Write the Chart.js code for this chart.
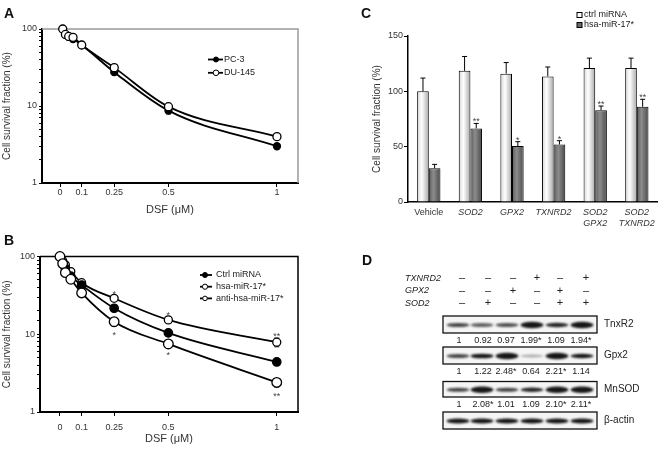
<!DOCTYPE html>
<html>
<head>
<meta charset="utf-8">
<script src="https://cdn.jsdelivr.net/npm/chart.js@4.4.1/dist/chart.umd.min.js"></script>
<style>
body { margin: 0; background: #fff; width: 660px; height: 449px; position: relative; overflow: hidden; font-family: "Liberation Sans", Arial, sans-serif; }
canvas { position: absolute; }
.tag { position: absolute; font: bold 14px "Liberation Sans", Arial, sans-serif; color: #111; }
</style>
</head>
<body>
<canvas id="chartA" width="330" height="220" style="left:0;top:0"></canvas>
<canvas id="chartB" width="330" height="227" style="left:0;top:222px"></canvas>
<canvas id="chartC" width="330" height="232" style="left:330px;top:0"></canvas>
<canvas id="blotD" width="330" height="229" style="left:330px;top:220px"></canvas>
<div class="tag" style="left:4px;top:5px">A</div>
<div class="tag" style="left:4px;top:232px">B</div>
<div class="tag" style="left:361px;top:5px">C</div>
<div class="tag" style="left:362px;top:252px">D</div>
<script>
//// data

// panel A
let doseA = [0.0125, 0.025, 0.04, 0.06, 0.1, 0.25, 0.5, 1];
let pc3 = [100, 84, 79, 74, 62, 27.5, 8.7, 3.0];
let pc3Err = [0, 0, 0, 0, 0, 1.5, 0.8, 0.2];
let du145 = [100, 85, 80, 78, 62, 31.5, 9.8, 4.0];
let du145Err = [0, 0, 0, 0, 0, 1.5, 1.0, 0.3];

// panel B
let doseB = [0, 0.0125, 0.025, 0.05, 0.1, 0.25, 0.5, 1];
let ctrlMiRNA = [100, 84, 70, 56, 43, 21.6, 10.4, 4.4];
let ctrlMiRNAErr = [0, 0, 0, 0, 0, 2, 1, 0.3];
let hsaMiR = [100, 81, 62, 51, 34, 14.5, 7.5, 2.4];
let hsaMiRErr = [0, 0, 0, 0, 0, 1.8, 0.5, 0.3];
let hsaMiRStars = ['', '', '', '', '', '*', '*', '**'];
let antiMiR = [100, 88, 78, 64, 46, 29, 15.3, 7.9];
let antiMiRErr = [0, 0, 0, 0, 0, 2, 1.5, 1.0];
let antiMiRStars = ['', '', '', '', '', '*', '*', '**'];

let doseTicks = [0, 0.1, 0.25, 0.5, 1];
let logTicks = [1, 10, 100];

// panel C
let groupsC = ['Vehicle', 'SOD2', 'GPX2', 'TXNRD2', ['SOD2', 'GPX2'], ['SOD2', 'TXNRD2']];
let ctrlC = [100, 118.5, 116, 113.5, 121, 121];
let ctrlCErr = [12, 13, 10, 8.5, 9, 9];
let hsaC = [30.5, 66.5, 50.5, 52, 83, 86];
let hsaCErr = [3.5, 4.5, 4, 3.4, 3.7, 6.8];
let hsaCStars = ['', '**', '*', '*', '**', '**'];

// panel D
let rowTXNRD2 = ['-', '-', '-', '+', '-', '+'];
let rowGPX2 = ['-', '-', '+', '-', '+', '-'];
let rowSOD2 = ['-', '+', '-', '-', '+', '+'];
let quantTrxR2 = ['1', '0.92', '0.97', '1.99*', '1.09', '1.94*'];
let quantGpx2 = ['1', '1.22', '2.48*', '0.64', '2.21*', '1.14'];
let quantMnSOD = ['1', '2.08*', '1.01', '1.09', '2.10*', '2.11*'];
let actinLevel = [1.3, 1.3, 1.3, 1.3, 1.3, 1.35];

//// shared look

const FONT = '"Liberation Sans", Arial, sans-serif';
Chart.defaults.font.family = FONT;
Chart.defaults.color = '#333';
Chart.defaults.animation = false;

/// top and right edge of the plot box
const framePlugin = {
    id: 'frame',
    beforeDatasetsDraw(chart, args, o) {
        if (!o.color) return;
        let a = chart.chartArea, c = chart.ctx;
        c.save();
        c.strokeStyle = o.color;
        c.lineWidth = o.width;
        c.beginPath();
        c.moveTo(a.left, a.top);
        c.lineTo(a.right, a.top);
        c.lineTo(a.right, a.bottom);
        c.stroke();
        c.restore();
    }
};

/// whiskers and significance stars, read from dataset.errors / dataset.stars
const errorPlugin = {
    id: 'errors',
    beforeDatasetsDraw(chart, args, o) {
        let c = chart.ctx;
        c.save();
        chart.data.datasets.forEach(function(ds, di) {
            if (!ds.errors) return;
            let meta = chart.getDatasetMeta(di);
            let ys = chart.scales[meta.yAxisID];
            meta.data.forEach(function(el, i) {
                let e = ds.errors[i];
                if (!e) return;
                let v = typeof ds.data[i] === 'object' ? ds.data[i].y : ds.data[i];
                let top = ys.getPixelForValue(v + e);
                let bot = o.upOnly ? el.y : ys.getPixelForValue(v - e);
                c.strokeStyle = '#000';
                c.lineWidth = 1;
                c.beginPath();
                c.moveTo(el.x, top); c.lineTo(el.x, bot);
                c.moveTo(el.x - o.cap, top); c.lineTo(el.x + o.cap, top);
                if (!o.upOnly) { c.moveTo(el.x - o.cap, bot); c.lineTo(el.x + o.cap, bot); }
                c.stroke();
            });
        });
        c.restore();
    },
    afterDatasetsDraw(chart, args, o) {
        let c = chart.ctx;
        c.save();
        c.font = '9px ' + FONT;
        c.fillStyle = '#444';
        c.textAlign = 'center';
        chart.data.datasets.forEach(function(ds, di) {
            if (!ds.stars) return;
            let meta = chart.getDatasetMeta(di);
            let ys = chart.scales[meta.yAxisID];
            meta.data.forEach(function(el, i) {
                let s = ds.stars[i];
                if (!s) return;
                let v = typeof ds.data[i] === 'object' ? ds.data[i].y : ds.data[i];
                let e = ds.errors ? ds.errors[i] : 0;
                if (ds.starSide === 'below') {
                    c.textBaseline = 'top';
                    c.fillText(s, el.x, ys.getPixelForValue(v - e) + 5);
                } else {
                    c.textBaseline = 'bottom';
                    c.fillText(s, el.x, ys.getPixelForValue(v + e) + 3);
                }
            });
        });
        c.restore();
    }
};

/// small legend drawn where the figure has it
const keyPlugin = {
    id: 'key',
    afterDraw(chart, args, o) {
        if (o.x == null) return;
        let c = chart.ctx;
        c.save();
        c.font = '9px ' + FONT;
        c.textBaseline = 'middle';
        chart.data.datasets.forEach(function(ds, i) {
            let y = o.y + i * o.step;
            c.strokeStyle = '#000';
            if (o.kind === 'box') {
                c.fillStyle = ds.keyColor;
                c.lineWidth = 1;
                c.fillRect(o.x, y - 2.5, 5, 5);
                c.strokeRect(o.x, y - 2.5, 5, 5);
            } else {
                c.lineWidth = ds.borderWidth;
                c.beginPath(); c.moveTo(o.x, y); c.lineTo(o.x + o.len, y); c.stroke();
                c.beginPath(); c.arc(o.x + o.mark, y, ds.keyRadius, 0, Math.PI * 2);
                c.fillStyle = ds.pointBackgroundColor;
                c.fill();
                c.lineWidth = 1;
                c.stroke();
            }
            c.fillStyle = '#222';
            c.fillText(ds.label, o.x + o.textAt, y);
        });
        c.restore();
    }
};

function toPoints(xs, ys) {
    return xs.map(function(x, i) { return {x: x, y: ys[i]}; });
}

function lineSet(label, xs, ys, errs, filled, radius, keyRadius, order) {
    return {
        label: label,
        data: toPoints(xs, ys),
        errors: errs,
        borderColor: '#000',
        borderWidth: 1.8,
        pointRadius: radius,
        pointBackgroundColor: filled ? '#000' : '#fff',
        pointBorderColor: '#000',
        pointBorderWidth: 1.3,
        cubicInterpolationMode: 'monotone',
        keyRadius: keyRadius,
        clip: false,
        order: order
    };
}

function surviveScales(xMin, xMax, yWidth, xHeight, tickPad) {
    return {
        x: {
            type: 'linear', min: xMin, max: xMax,
            afterBuildTicks: function(s) { s.ticks = doseTicks.map(function(v) { return {value: v}; }); },
            ticks: { callback: function(v) { return String(v); }, autoSkip: false, maxRotation: 0, padding: tickPad, font: {size: 9} },
            grid: { drawOnChartArea: false, tickLength: 4, color: '#000' },
            border: { color: '#000', width: 2 },
            title: { display: true, text: 'DSF (\u03bcM)', font: {size: 11}, padding: {top: 0, bottom: 3} },
            afterFit: function(s) { s.height = xHeight; }
        },
        y: {
            type: 'logarithmic', min: 1, max: 100,
            ticks: { callback: function(v) { return logTicks.includes(v) ? String(v) : ''; }, autoSkip: false, padding: 2, font: {size: 9} },
            grid: { drawOnChartArea: false, tickLength: 3, color: '#000' },
            border: { color: '#000', width: 2 },
            title: { display: true, text: 'Cell survival fraction (%)', font: {size: 10}, padding: {top: 1, bottom: 0} },
            afterFit: function(s) { s.width = yWidth; }
        }
    };
}

//// panel A
new Chart(document.getElementById('chartA'), {
    type: 'line',
    data: {
        datasets: [
            lineSet('PC-3', doseA, pc3, pc3Err, true, 3.5, 2.5, 1),
            lineSet('DU-145', doseA, du145, du145Err, false, 4, 2.8, 0)
        ]
    },
    options: {
        responsive: false,
        layout: { padding: {top: 29, right: 32, left: 0, bottom: 0}, autoPadding: false },
        scales: surviveScales(-0.083, 1.097, 42, 37, 0),
        plugins: {
            legend: { display: false },
            tooltip: { enabled: false },
            frame: { color: '#9a9a9a', width: 1.5 },
            errors: { cap: 2.5, upOnly: false },
            key: { kind: 'line', x: 208, y: 59.5, step: 13.3, len: 15, mark: 8, textAt: 16 }
        }
    },
    plugins: [framePlugin, errorPlugin, keyPlugin]
});

//// panel B
let setCtrl = lineSet('Ctrl miRNA', doseB, ctrlMiRNA, ctrlMiRNAErr, true, 4.2, 2.5, 1);
let setHsa = lineSet('hsa-miR-17*', doseB, hsaMiR, hsaMiRErr, false, 4.8, 2.6, 0);
setHsa.stars = hsaMiRStars;
setHsa.starSide = 'below';
let setAnti = lineSet('anti-hsa-miR-17*', doseB, antiMiR, antiMiRErr, false, 4, 2.3, 2);
setAnti.stars = antiMiRStars;
setAnti.starSide = 'above';

new Chart(document.getElementById('chartB'), {
    type: 'line',
    data: { datasets: [setCtrl, setHsa, setAnti] },
    options: {
        responsive: false,
        layout: { padding: {top: 34.5, right: 32, left: 0, bottom: 0}, autoPadding: false },
        scales: surviveScales(-0.092, 1.098, 40, 37, 6),
        plugins: {
            legend: { display: false },
            tooltip: { enabled: false },
            frame: { color: '#000', width: 1.5 },
            errors: { cap: 2.5, upOnly: false },
            key: { kind: 'line', x: 200, y: 53, step: 11.7, len: 12, mark: 5, textAt: 16 }
        }
    },
    plugins: [framePlugin, errorPlugin, keyPlugin]
});

//// panel C
function barShade(stops) {
    return function(context) {
        let chart = context.chart;
        let sx = chart.scales.x;
        if (!sx || context.dataIndex == null) return stops[1];
        let barW = (sx.right - sx.left) / groupsC.length * 0.56 / 2;
        let cx = sx.getPixelForValue(context.dataIndex) + (context.datasetIndex === 0 ? -barW / 2 : barW / 2);
        if (!isFinite(cx) || !isFinite(barW) || barW <= 0) return stops[1];
        let g = chart.ctx.createLinearGradient(cx - barW / 2, 0, cx + barW / 2, 0);
        g.addColorStop(0, stops[0]);
        g.addColorStop(0.4, stops[1]);
        g.addColorStop(1, stops[2]);
        return g;
    };
}

new Chart(document.getElementById('chartC'), {
    type: 'bar',
    data: {
        labels: groupsC,
        datasets: [
            { label: 'ctrl miRNA', data: ctrlC, errors: ctrlCErr, keyColor: '#fff',
              backgroundColor: barShade(['#d4d4d4', '#ffffff', '#a8a8a8']), borderColor: '#000', borderWidth: 1 },
            { label: 'hsa-miR-17*', data: hsaC, errors: hsaCErr, stars: hsaCStars, starSide: 'above', keyColor: '#6a6a6a',
              backgroundColor: barShade(['#5a5a5a', '#8c8c8c', '#4a4a4a']), borderColor: '#000', borderWidth: 1 }
        ]
    },
    options: {
        responsive: false,
        categoryPercentage: 0.56,
        barPercentage: 1,
        layout: { padding: {top: 36, right: 2, left: 0, bottom: 0}, autoPadding: false },
        scales: {
            x: {
                grid: { drawOnChartArea: false, drawTicks: false },
                border: { color: '#000', width: 1.5 },
                ticks: {
                    padding: 5, autoSkip: false, maxRotation: 0, color: '#333',
                    font: function(ctx) { return {size: 9, style: ctx.index === 0 ? 'normal' : 'italic'}; }
                },
                afterFit: function(s) { s.height = 30; }
            },
            y: {
                min: 0, max: 150,
                ticks: { stepSize: 50, padding: 1, font: {size: 9} },
                grid: { drawOnChartArea: false, tickLength: 4, color: '#000' },
                border: { color: '#000', width: 1.5 },
                title: { display: true, text: 'Cell survival fraction (%)', font: {size: 10}, padding: {top: 41, bottom: 0} },
                afterFit: function(s) { s.width = 78; }
            }
        },
        plugins: {
            legend: { display: false },
            tooltip: { enabled: false },
            errors: { cap: 2.5, upOnly: true },
            key: { kind: 'box', x: 247, y: 15, step: 10, textAt: 7 }
        }
    },
    plugins: [errorPlugin, keyPlugin]
});

//// panel D - western blot
function drawBlots() {
    let c = document.getElementById('blotD').getContext('2d');
    c.translate(-330, -220);   // work in page coordinates

    let signX = [462, 488, 513, 537, 560, 586];
    let laneX = [458, 482, 507, 532, 557, 582];
    let quantX = [459, 483, 506, 531, 556, 581];

    // treatment rows
    let rows = [['TXNRD2', rowTXNRD2, 278], ['GPX2', rowGPX2, 290.5], ['SOD2', rowSOD2, 303]];
    c.textBaseline = 'middle';
    rows.forEach(function(r) {
        c.fillStyle = '#222';
        c.textAlign = 'left';
        c.font = 'italic 9px ' + FONT;
        c.fillText(r[0], 405, r[2]);
        c.textAlign = 'center';
        c.font = '11px ' + FONT;
        r[1].forEach(function(s, i) { c.fillText(s === '+' ? '+' : '\u2013', signX[i], r[2]); });
    });

    // blot strips
    let strips = [
        {top: 316, bottom: 333, name: 'TnxR2', quant: quantTrxR2},
        {top: 347, bottom: 364, name: 'Gpx2', quant: quantGpx2},
        {top: 381.5, bottom: 397, name: 'MnSOD', quant: quantMnSOD},
        {top: 412, bottom: 429, name: '\u03b2-actin', quant: null}
    ];
    strips.forEach(function(st) {
        c.fillStyle = '#f5f5f5';
        c.fillRect(443, st.top, 154, st.bottom - st.top);
        let mid = (st.top + st.bottom) / 2;
        for (let i = 0; i < 6; i++) {
            let v = st.quant ? parseFloat(st.quant[i]) : actinLevel[i];
            let h = Math.min(6.5, 1.5 + 2.6 * v);
            let a = Math.min(0.95, v * v * 0.75);
            c.save();
            c.filter = 'blur(0.8px)';
            c.fillStyle = 'rgba(10,10,10,' + a + ')';
            c.beginPath();
            c.ellipse(laneX[i], mid + 0.5, 11.5, h / 2, 0, 0, Math.PI * 2);
            c.fill();
            c.restore();
        }
        c.strokeStyle = '#111';
        c.lineWidth = 1.3;
        c.strokeRect(443, st.top, 154, st.bottom - st.top);

        c.fillStyle = '#222';
        c.textAlign = 'left';
        c.font = '10px ' + FONT;
        c.fillText(st.name, 604, mid);
        if (st.quant) {
            c.textAlign = 'center';
            c.font = '9px ' + FONT;
            st.quant.forEach(function(q, i) { c.fillText(q, quantX[i], st.bottom + 7.5); });
        }
    });
}

drawBlots();
</script>
</body>
</html>
